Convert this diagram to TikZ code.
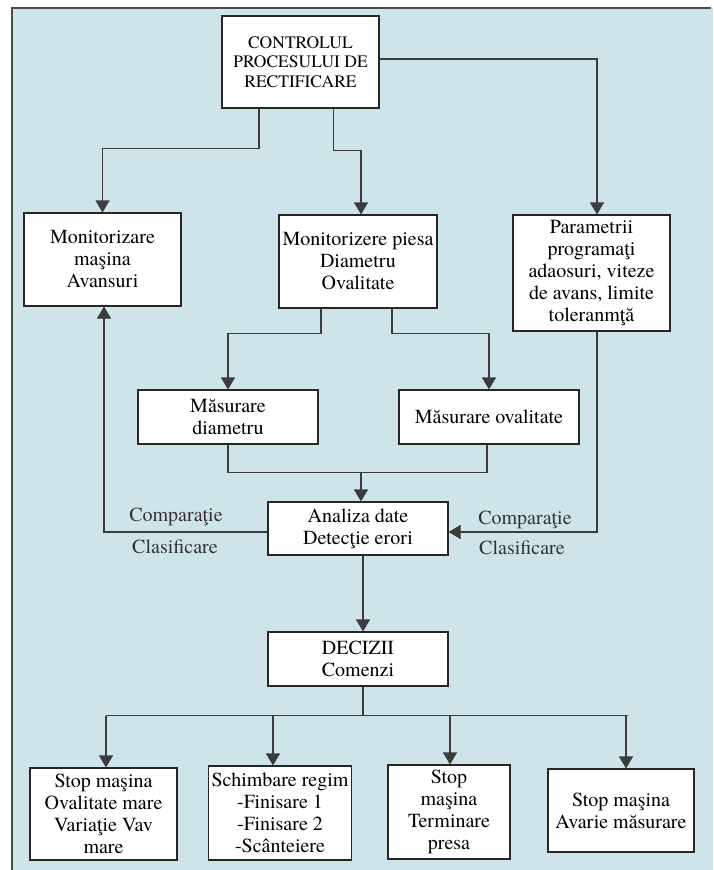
\documentclass[tikz,border=0pt]{standalone}
\usepackage{fontspec}
\setmainfont{texgyretermes}[Extension=.otf, UprightFont=*-regular, BoldFont=*-bold, ItalicFont=*-italic, BoldItalicFont=*-bolditalic]
\usepackage{tikz}
\usetikzlibrary{arrows.meta}
\definecolor{bgblue}{RGB}{206,228,232}
\definecolor{linegray}{RGB}{60,60,60}
\tikzset{
  box/.style={draw=black!85, fill=white, line width=1.1pt, align=center, inner sep=0pt,
    font=\fontsize{20}{22}\selectfont},
  arr/.style={draw=linegray, line width=1.1pt, -{Triangle[length=12pt,width=14pt]}},
  wire/.style={draw=linegray, line width=1.1pt},
  lbl/.style={font=\fontsize{20}{22}\selectfont, text=black!80, inner sep=0pt}
}

\begin{document}
\begin{tikzpicture}[x=1pt,y=-1pt]
            \useasboundingbox (0,0) rectangle (713,870);
            \fill[bgblue] (12,8) rectangle (713,870);
            \draw[black!70, line width=1.2pt] (12,870) -- (12,8) -- (711,8);
            % boxes
            \node[box, minimum width=157pt, minimum height=92pt, font=\fontsize{17.5}{19.5}\selectfont] (ctrl) at (300.5,62) {CONTROLUL\\PROCESULUI DE\\RECTIFICARE};
            \node[box, minimum width=157pt, minimum height=93pt] (mmas) at (102.5,259.5) {Monitorizare\\maşina\\Avansuri};
            \node[box, minimum width=158pt, minimum height=93pt] (mpie) at (358,261.5) {Monitorizere piesa\\Diametru\\Ovalitate};
            \node[box, minimum width=157pt, minimum height=116pt] (param) at (591.5,273) {Parametrii\\programaţi\\adaosuri, viteze\\de avans, limite\\toleranmţă};
            \node[box, minimum width=180pt, minimum height=54pt] (mdia) at (228,417) {Măsurare\\diametru};
            \node[box, minimum width=180pt, minimum height=54pt] (mova) at (489,417) {Măsurare ovalitate};
            \node[box, minimum width=180pt, minimum height=53pt] (anal) at (358,528.5) {Analiza date\\Detecţie erori};
            \node[box, minimum width=180pt, minimum height=54pt] (dec) at (358,659) {DECIZII\\Comenzi};
            \node[box, minimum width=147pt, minimum height=92pt] (b1) at (103.5,814) {Stop maşina\\Ovalitate mare\\Variaţie Vav\\mare};
            \node[box, minimum width=143pt, minimum height=94pt] (b2) at (280,813) {Schimbare regim\\-Finisare 1\\-Finisare 2\\-Scânteiere};
            \node[box, minimum width=122pt, minimum height=94pt] (b3) at (449,812) {Stop\\maşina\\Terminare\\presa};
            \node[box, minimum width=146pt, minimum height=83pt] (b4) at (621,810.5) {Stop maşina\\Avarie măsurare};
            % labels
            \node[lbl] (cmpL) at (176,517) {Comparaţie};
            \node[lbl] (clsL) at (175,547) {Clasificare};
            \node[lbl] (cmpR) at (525,520) {Comparaţie};
            \node[lbl] (clsR) at (522,548) {Clasificare};
            % connectors
            \draw[arr] ([xshift=-41.5pt]ctrl.south) -- ++(0,40) -| (mmas.north);
            \draw[arr] ([xshift=33pt]ctrl.south) -- ++(0,42) -| ([xshift=3pt]mpie.north);
            \draw[arr] ([yshift=3pt]ctrl.east) -| ([xshift=5.5pt]param.north);
            \draw[arr] ([xshift=-37pt]mpie.south) -- ++(0,25) -| (mdia.north);
            \draw[arr] ([xshift=34pt]mpie.south) -- ++(0,25) -| (mova.north);
            \draw[wire] (mdia.south) -- ++(0,28) coordinate (j1) -| ([xshift=-2pt]mova.south);
            \draw[arr] ([xshift=3pt]j1 -| anal.north) -- ([xshift=3pt]anal.north);
            \draw[arr] ([yshift=-3.5pt]anal.west) -| ([xshift=1.5pt]mmas.south);
            \draw[arr] ([xshift=5.5pt]param.south) |- ([yshift=-3.5pt]anal.east);
            \draw[arr] ([xshift=5pt]anal.south) -- ([xshift=5pt]dec.north);
            \draw[wire] ([xshift=5pt]dec.south) -- ++(0,29) coordinate (j2);
            \draw[wire] ([xshift=2.5pt]j2 -| b1.north) -- ([xshift=7pt]j2 -| b4.north);
            \draw[arr] ([xshift=2.5pt]j2 -| b1.north) -- ([xshift=2.5pt]b1.north);
            \draw[arr] ([xshift=-7pt]j2 -| b2.north) -- ([xshift=-7pt]b2.north);
            \draw[arr] ([xshift=1pt]j2 -| b3.north) -- ([xshift=1pt]b3.north);
            \draw[arr] ([xshift=5pt]j2 -| b4.north) -- ([xshift=5pt]b4.north);
        \end{tikzpicture}
\end{document}
